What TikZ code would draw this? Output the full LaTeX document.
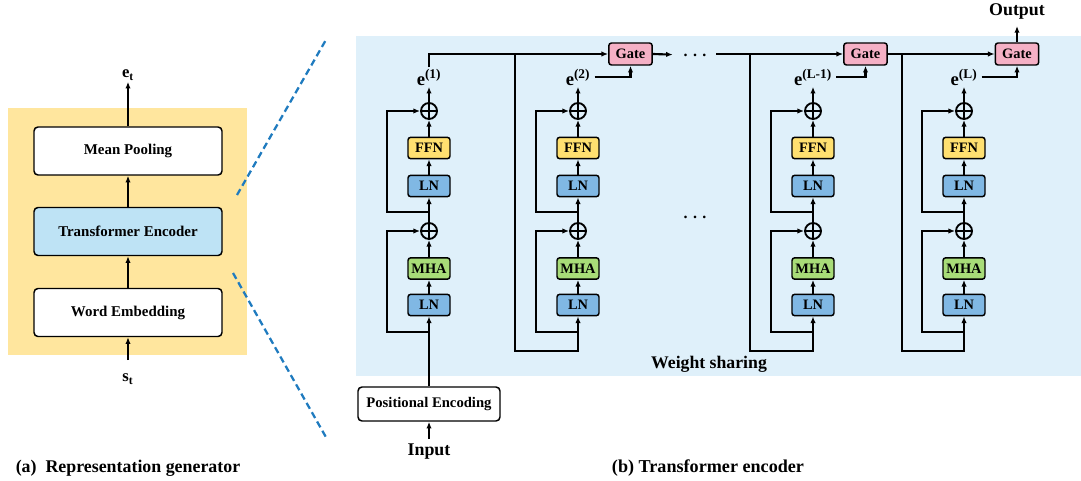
\documentclass[tikz,border=0pt]{standalone}
\usepackage{fontspec}
\setmainfont{Liberation Serif}
\usetikzlibrary{arrows.meta}
\definecolor{ybg}{HTML}{FFE69E}
\definecolor{bbg}{HTML}{DFF0FA}
\definecolor{tebox}{HTML}{BEE3F5}
\definecolor{lnc}{HTML}{80B8E4}
\definecolor{mhac}{HTML}{A8DC78}
\definecolor{ffnc}{HTML}{FFE070}
\definecolor{gatec}{HTML}{F5B0C5}
\definecolor{dashc}{HTML}{1F7BBF}
\tikzset{
  arr/.style={line width=1.6pt, -{Latex[length=5pt,width=4pt]}},
  bigbox/.style={draw=black, line width=1.1pt, rounded corners=3pt, fill=white,
    minimum width=141pt, minimum height=36pt, inner sep=0pt,
    font=\bfseries\fontsize{11.2pt}{13pt}\selectfont},
  smallbox/.style={draw=black, line width=1.1pt, rounded corners=2pt,
    minimum width=31.5pt, minimum height=16pt, inner sep=0pt,
    font=\bfseries\fontsize{10.8pt}{12pt}\selectfont},
  lnbox/.style={smallbox, fill=lnc},
  mhabox/.style={smallbox, fill=mhac},
  ffnbox/.style={smallbox, fill=ffnc},
  gatebox/.style={smallbox, fill=gatec, minimum width=32.5pt, minimum height=16.5pt},
  plus/.style={circle, draw=black, line width=1.4pt, minimum size=12pt, inner sep=0pt,
    path picture={\draw[line width=1.4pt] (path picture bounding box.north) -- (path picture bounding box.south)
      (path picture bounding box.west) -- (path picture bounding box.east);}},
  elab/.style={inner sep=1pt, font=\bfseries\fontsize{14pt}{14pt}\selectfont},
  lab/.style={inner sep=1pt, font=\bfseries\fontsize{13.4pt}{15pt}\selectfont},
  dashline/.style={draw=dashc, line width=1.7pt, dash pattern=on 5pt off 3pt}
}
\newcommand{\supx}[1]{\textsuperscript{\fontsize{10pt}{10pt}\selectfont #1}}
\begin{document}
\begin{tikzpicture}[x=0.75pt,y=-0.75pt]
\useasboundingbox (0,0) rectangle (1081,481);
% backgrounds
\fill[ybg] (8,108) rectangle (247,355);
\fill[bbg] (356,36) rectangle (1081,376);

% ---- left panel ----
\node[bigbox] (mp) at (128,151) {Mean Pooling};
\node[bigbox, fill=tebox] (te) at (128,231.5) {Transformer Encoder};
\node[bigbox] (we) at (128,312.5) {Word Embedding};
\node[lab, font=\bfseries\fontsize{12.5pt}{14pt}\selectfont] (et) at (128,75) {e\textsubscript{t}};
\node[lab, font=\bfseries\fontsize{12.5pt}{14pt}\selectfont] (st) at (128,379) {s\textsubscript{t}};
\coordinate (stTip) at (128,360);
\draw[arr] (stTip) -- (we.south);
\draw[arr] (we) -- (te);
\draw[arr] (te) -- (mp);
\draw[arr] (mp) -- (et);
\node[lab] (capa) at (128,468) {(a)\ \ Representation generator};

% dashed zoom lines
\draw[dashline] (237,195) -- (327,38);
\draw[dashline] (233,273) -- (327,439);

% ---- right panel ----
\foreach \i/\x in {1/429, 2/578, 3/813, 4/964}{
  \node[lnbox] (lnA\i) at (\x,305) {LN};
  \node[mhabox] (mha\i) at (\x,268.5) {MHA};
  \node[plus] (pA\i) at (\x,231) {};
  \node[lnbox] (lnB\i) at (\x,186) {LN};
  \node[ffnbox] (ffn\i) at (\x,148) {FFN};
  \node[plus] (pB\i) at (\x,111) {};
  \coordinate (sA\i) at (\x,332);
  \coordinate (sB\i) at (\x,212);
  \draw[arr] (lnA\i) -- (mha\i);
  \draw[arr] (mha\i) -- (pA\i);
  \draw[arr] (pA\i) -- (lnB\i);
  \draw[arr] (lnB\i) -- (ffn\i);
  \draw[arr] (ffn\i) -- (pB\i);
  \draw[arr] (sA\i) -- ++(-42,0) |- (pA\i.west);
  \draw[arr] (sB\i) -- ++(-42,0) |- (pB\i.west);
}
\node[elab] (e1) at (429,77) {e\supx{(1)}};
\node[elab] (e2) at (578,77) {e\supx{(2)}};
\node[elab] (e3) at (813,77) {e\supx{(L-1)}};
\node[elab] (e4) at (964,77) {e\supx{(L)}};
\foreach \i in {1,2,3,4}{ \draw[arr] (pB\i) -- (e\i); }

% gates
\node[gatebox] (g1) at (630.5,54) {Gate};
\node[gatebox] (g3) at (865.5,54) {Gate};
\node[gatebox] (g4) at (1017,54) {Gate};
\node[inner sep=0pt, font=\bfseries\fontsize{12pt}{14pt}\selectfont] (dt) at (695,55) {.\,\,.\,\,.};
\node[inner sep=0pt, font=\bfseries\fontsize{12pt}{14pt}\selectfont] (dm) at (695,217) {.\,\,.\,\,.};

% e(1) to gate 1 and branch to column 2
\draw[arr] (e1.north) |- (g1.west);
\coordinate (b2) at (515,54);
\coordinate (bot2) at (515,351);
\draw[arr] (b2) -- (bot2) -| (lnA2.south);
\draw[arr] ([xshift=2pt]e2.east) -| (g1.south);
\draw[arr, shorten >=8pt] (g1.east) -- (dt.west);

% column 3
\coordinate (c3s) at (716,54);
\draw[arr] (c3s) -- (g3.west);
\coordinate (b3) at (750,54);
\coordinate (bot3) at (750,351);
\draw[arr] (b3) -- (bot3) -| (lnA3.south);
\draw[arr] ([xshift=2pt]e3.east) -| (g3.south);

% column 4
\draw[arr] (g3.east) -- (g4.west);
\coordinate (b4) at (902,54);
\coordinate (bot4) at (902,351);
\draw[arr] (b4) -- (bot4) -| (lnA4.south);
\draw[arr] ([xshift=2pt]e4.east) -| (g4.south);

% output
\node[lab] (out) at (1017,11) {Output};
\coordinate (outTip) at (1017,26);
\draw[arr] (g4.north) -- (outTip);

% positional encoding and input
\node[draw=black, line width=1.1pt, rounded corners=3pt, fill=white, minimum width=106.5pt,
  minimum height=25.5pt, inner sep=0pt, font=\bfseries\fontsize{11pt}{12pt}\selectfont] (pe) at (429,404) {Positional Encoding};
\draw[arr] (pe) -- (lnA1);
\node[lab] (inp) at (429,452) {Input};
\coordinate (inTip) at (429,439);
\draw[arr] (inTip) -- (pe.south);

\node[inner sep=1pt, font=\bfseries\fontsize{13.3pt}{15pt}\selectfont] (ws) at (709,364) {Weight sharing};
\node[lab, font=\bfseries\fontsize{13.6pt}{15pt}\selectfont] (capb) at (708,468) {(b) Transformer encoder};
\end{tikzpicture}
\end{document}
